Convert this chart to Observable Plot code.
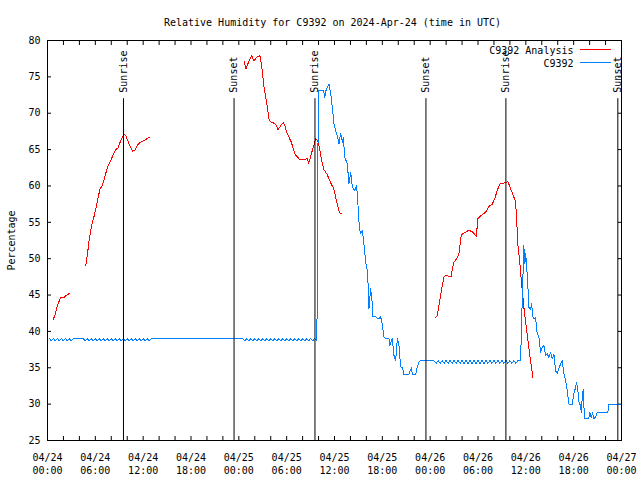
<!DOCTYPE html>
<html><head><meta charset="utf-8">
<script src="https://cdn.jsdelivr.net/npm/d3@7"></script>
<script src="https://cdn.jsdelivr.net/npm/@observablehq/plot@0.6"></script>
<style>body{margin:0;background:#fff}</style>
</head><body><div id="chart"></div>
<script>
const titleText = "Relative Humidity for C9392 on 2024-Apr-24 (time in UTC)";
const yAxisLabel = "Percentage";
const seriesNames = ["C9392 Analysis", "C9392"];
const seriesColors = ["#ff0000", "#0080ff"];
const startUTC = Date.UTC(2024, 3, 24, 0, 0);
const xTickHours = [0, 6, 12, 18, 24, 30, 36, 42, 48, 54, 60, 66, 72];
const xTickLabels = ["04/24\n00:00","04/24\n06:00","04/24\n12:00","04/24\n18:00","04/25\n00:00","04/25\n06:00","04/25\n12:00","04/25\n18:00","04/26\n00:00","04/26\n06:00","04/26\n12:00","04/26\n18:00","04/27\n00:00"];
const xMinorTickHours = [0,2,4,6,8,10,12,14,16,18,20,22,24,26,28,30,32,34,36,38,40,42,44,46,48,50,52,54,56,58,60,62,64,66,68,70,72];
const yTicks = [25, 30, 35, 40, 45, 50, 55, 60, 65, 70, 75, 80];
const eventHours = [9.53, 23.40, 33.55, 47.47, 57.50, 71.54];
const eventNames = ["Sunrise", "Sunset", "Sunrise", "Sunset", "Sunrise", "Sunset"];

// hours since 2024-04-24 00:00 UTC, relative humidity (%)
const analysisPoints = [
[0.70,41.6],[0.92,42.2],[1.25,43.6],[1.67,44.7],[1.88,44.6],[2.08,44.7],[2.29,44.9],[2.71,45.2],
[3.5,null],
[4.80,49.1],[5.02,50.7],[5.22,52.5],[5.43,53.9],[5.64,55.0],[5.93,56.2],[6.27,58.0],[6.59,59.6],[6.90,60.1],[7.18,61.2],[7.52,62.6],[7.94,63.5],[8.35,64.6],[8.65,65.1],[8.85,65.2],[9.10,66.0],[9.40,66.7],[9.60,67.1],[9.82,66.9],[10.23,65.8],[10.66,64.8],[10.95,64.9],[11.28,65.6],[11.61,66.0],[11.91,66.1],[12.32,66.4],[12.83,66.7],
[18,null],
[24.65,77.2],[24.90,76.1],[25.28,77.2],[25.61,77.9],[25.90,77.2],[26.24,77.7],[26.66,77.9],[26.83,76.8],[27.16,73.6],[27.37,72.2],[27.58,70.8],[27.78,69.2],[28.00,68.8],[28.50,68.6],[28.75,68.3],[28.91,67.7],[29.25,68.3],[29.59,68.7],[29.79,68.3],[30.00,67.4],[30.29,66.7],[30.59,66.0],[30.84,65.1],[31.09,64.3],[31.34,64.0],[31.67,63.6],[32.17,63.6],[32.60,63.8],[32.76,63.1],[32.92,63.7],[33.22,64.9],[33.43,65.6],[33.64,66.5],[33.85,66.3],[34.05,65.6],[34.27,64.2],[34.48,63.0],[34.68,62.2],[35.02,61.7],[35.31,61.0],[35.61,60.2],[35.86,59.8],[36.06,58.9],[36.27,57.8],[36.43,57.1],[36.65,56.3],[36.86,56.2],
[42,null],
[48.68,41.9],[48.90,42.2],[49.10,43.6],[49.31,44.9],[49.52,46.3],[49.72,47.5],[49.94,47.7],[50.35,47.6],[50.65,47.6],[50.78,48.6],[50.98,49.5],[51.32,50.0],[51.60,50.6],[51.73,51.8],[51.91,53.3],[52.23,53.5],[52.66,53.8],[52.86,53.9],[53.28,53.7],[53.79,53.1],[53.99,55.5],[54.32,55.9],[54.74,56.2],[55.08,56.6],[55.37,57.2],[55.79,57.5],[56.08,58.2],[56.42,59.4],[56.75,60.3],[57.25,60.4],[57.75,60.6],[58.09,59.6],[58.43,58.7],[58.71,57.8],[58.84,55.7],[58.99,52.0],[59.22,49.8],[59.43,47.0],[59.63,44.7],[59.84,42.4],[60.06,40.6],[60.26,38.8],[60.47,36.9],[60.68,35.3],[60.88,33.7]
];

const observedPoints = [
[0.25,39],[0.5,38.7],[0.75,39],[1,38.7],[1.25,39],[1.5,38.7],[1.75,39],[2,38.7],[2.25,39],[2.5,38.7],[2.75,39],[3,38.7],[3.25,39],
[4.5,39],
[4.75,38.7],[5,39],[5.25,38.7],[5.5,39],[5.75,38.7],[6,39],[6.25,38.7],[6.5,39],[6.75,38.7],[7,39],[7.25,38.7],[7.5,39],[7.75,38.7],[8,39],[8.25,38.7],[8.5,39],[8.75,38.7],[9,39],[9.25,38.7],[9.5,39],[9.75,38.7],[10,39],[10.25,38.7],[10.5,39],[10.75,38.7],[11,39],[11.25,38.7],[11.5,39],[11.75,38.7],[12,39],[12.25,38.7],[12.5,39],[12.75,38.7],[13,39],
[24.5,39],
[24.75,38.7],[25,39],[25.25,38.7],[25.5,39],[25.75,38.7],[26,39],[26.25,38.7],[26.5,39],[26.75,38.7],[27,39],[27.25,38.7],[27.5,39],[27.75,38.7],[28,39],[28.25,38.7],[28.5,39],[28.75,38.7],[29,39],[29.25,38.7],[29.5,39],[29.75,38.7],[30,39],[30.25,38.7],[30.5,39],[30.75,38.7],[31,39],[31.25,38.7],[31.5,39],[31.75,38.7],[32,39],[32.25,38.7],[32.5,39],[32.75,38.7],[33,39],[33.25,38.7],[33.5,39],
[33.76,38.8],[33.85,44.4],[33.96,73.1],
[34.14,73.1],[34.64,73.1],[34.77,72.2],[34.93,73.1],[35.10,73.6],[35.31,74.0],[35.52,72.7],[35.73,70.8],[35.93,68.5],[36.15,67.6],[36.36,66.9],[36.56,65.8],[36.77,67.2],[36.99,66.0],[37.11,66.7],[37.28,64.0],[37.61,63.0],[37.81,60.3],[38.03,61.9],[38.24,59.8],[38.53,59.4],[38.78,60.0],[38.94,57.5],[39.12,54.3],[39.28,53.4],[39.49,53.9],[39.69,52.0],[39.91,49.5],[40.12,48.4],[40.25,45.6],[40.32,43.1],[40.53,45.9],[40.70,44.3],[40.82,42.0],[41.16,42.0],[41.57,41.7],[41.79,42.0],[42.00,41.0],[42.20,39.2],[42.41,39.0],[42.83,39.0],[42.95,38.1],[43.25,39.0],[43.46,36.7],[43.67,36.0],[43.88,39.0],[44.08,38.1],[44.30,35.1],[44.51,35.1],[44.71,34.1],[45.34,34.1],[45.64,35.0],[45.76,34.1],[46.18,34.1],[46.39,35.1],[46.59,35.8],[46.80,36.0],[48.43,36.0],
[48.75,35.6],[49,36],[49.25,35.6],[49.5,36],[49.75,35.6],[50,36],[50.25,35.6],[50.5,36],[50.75,35.6],[51,36],[51.25,35.6],[51.5,36],[51.75,35.6],[52,36],[52.25,35.6],[52.5,36],[52.75,35.6],[53,36],[53.25,35.6],[53.5,36],[53.75,35.6],[54,36],[54.25,35.6],[54.5,36],[54.75,35.6],[55,36],[55.25,35.6],[55.5,36],[55.75,35.6],[56,36],[56.25,35.6],[56.5,36],[56.75,35.6],[57,36],[57.25,35.6],[57.5,36],[57.75,35.6],[58,36],[58.25,35.6],[58.5,36],[58.75,35.6],[59,36],
[59.34,36.0],[59.55,44.3],[59.75,51.8],[59.88,49.3],[59.97,50.7],[60.09,49.3],[60.26,46.1],[60.38,43.3],[60.60,43.0],[60.72,43.8],[60.93,41.7],[61.22,41.9],[61.43,39.7],[61.63,39.3],[61.85,37.1],[62.06,37.8],[62.26,38.1],[62.47,36.7],[62.69,36.9],[62.89,36.4],[63.10,37.1],[63.31,36.2],[63.52,36.9],[63.73,34.6],[63.94,34.2],[64.14,34.9],[64.36,35.5],[64.57,36.0],[64.77,34.2],[64.98,33.3],[65.20,31.9],[65.40,30.0],[65.82,30.0],[66.02,31.4],[66.24,32.3],[66.36,33.0],[66.52,31.9],[66.70,30.0],[66.86,30.0],[66.95,28.9],[67.08,31.0],[67.20,32.0],[67.36,28.0],[67.90,28.0],[68.03,28.9],[68.20,28.2],[68.37,28.8],[68.53,28.0],[68.74,28.2],[68.96,28.9],[70.29,28.9],[70.41,30.0],[72.00,30.0]
];

const ruleBottom = 25, ruleTop = 72;

const toDate = h => new Date(startUTC + h * 3600000);
const analysis = analysisPoints.map(([h, v]) => ({date: toDate(h), rh: v}));
const observed = observedPoints.map(([h, v]) => ({date: toDate(h), rh: v}));
const events = eventHours.map((h, i) => ({date: toDate(h), name: eventNames[i]}));
const labelOf = new Map(xTickHours.map((h, i) => [+toDate(h), xTickLabels[i]]));
const lineShape = {draw(ctx, l) { ctx.moveTo(0, 0); ctx.lineTo(0, -l); }};
const blank = () => "";

const chart = Plot.plot({
  width: 640, height: 480,
  marginLeft: 47, marginRight: 19, marginTop: 40, marginBottom: 40,
  style: {fontFamily: "'DejaVu Sans Mono', monospace", fontSize: "10px", background: "#fff", color: "#000"},
  x: {type: "utc", domain: [toDate(0), toDate(72)]},
  y: {domain: [25, 80]},
  marks: [
    Plot.axisX({anchor: "bottom", ticks: xMinorTickHours.map(toDate), tickSize: -4, tickFormat: blank, label: null}),
    Plot.axisX({anchor: "top", ticks: xMinorTickHours.map(toDate), tickSize: -4, tickFormat: blank, label: null}),
    Plot.axisX({anchor: "bottom", ticks: xTickHours.map(toDate), tickSize: 0, tickPadding: 11, lineHeight: 1.3, tickFormat: d => labelOf.get(+d), label: null}),
    Plot.axisY({anchor: "left", ticks: yTicks, tickSize: -4, tickFormat: blank, label: null}),
    Plot.axisY({anchor: "right", ticks: yTicks, tickSize: -4, tickFormat: blank, label: null}),
    Plot.axisY({anchor: "left", ticks: yTicks, tickSize: 0, tickPadding: 7, label: null}),
    Plot.text([yAxisLabel], {frameAnchor: "left", dx: -36, rotate: -90, text: d => d, textAnchor: "middle", lineAnchor: "middle"}),
    Plot.text([titleText], {frameAnchor: "top", dy: -18, dx: -2, text: d => d, lineAnchor: "middle"}),
    Plot.line(analysis, {x: "date", y: "rh", stroke: seriesColors[0], strokeWidth: 1, shapeRendering: "crispEdges"}),
    Plot.line(observed, {x: "date", y: "rh", stroke: seriesColors[1], strokeWidth: 1, shapeRendering: "crispEdges"}),
    Plot.ruleX(events, {x: "date", y1: ruleBottom, y2: ruleTop, stroke: "#000", strokeWidth: 1}),
    Plot.text(events, {x: "date", y: ruleTop, text: "name", rotate: -90, textAnchor: "start", lineAnchor: "middle", dy: -6}),
    Plot.text([seriesNames[0]], {frameAnchor: "top-right", dx: -48, dy: 10, textAnchor: "end", lineAnchor: "middle", text: d => d}),
    Plot.text([seriesNames[1]], {frameAnchor: "top-right", dx: -48, dy: 23, textAnchor: "end", lineAnchor: "middle", text: d => d}),
    Plot.vector([seriesNames[0]], {frameAnchor: "top-right", dx: -41, dy: 9, length: 30, rotate: 90, anchor: "start", shape: lineShape, stroke: seriesColors[0], strokeWidth: 1, shapeRendering: "crispEdges"}),
    Plot.vector([seriesNames[1]], {frameAnchor: "top-right", dx: -41, dy: 22, length: 30, rotate: 90, anchor: "start", shape: lineShape, stroke: seriesColors[1], strokeWidth: 1, shapeRendering: "crispEdges"}),
    Plot.frame({stroke: "#000"})
  ]
});
document.getElementById("chart").appendChild(chart);
</script>
</body></html>
